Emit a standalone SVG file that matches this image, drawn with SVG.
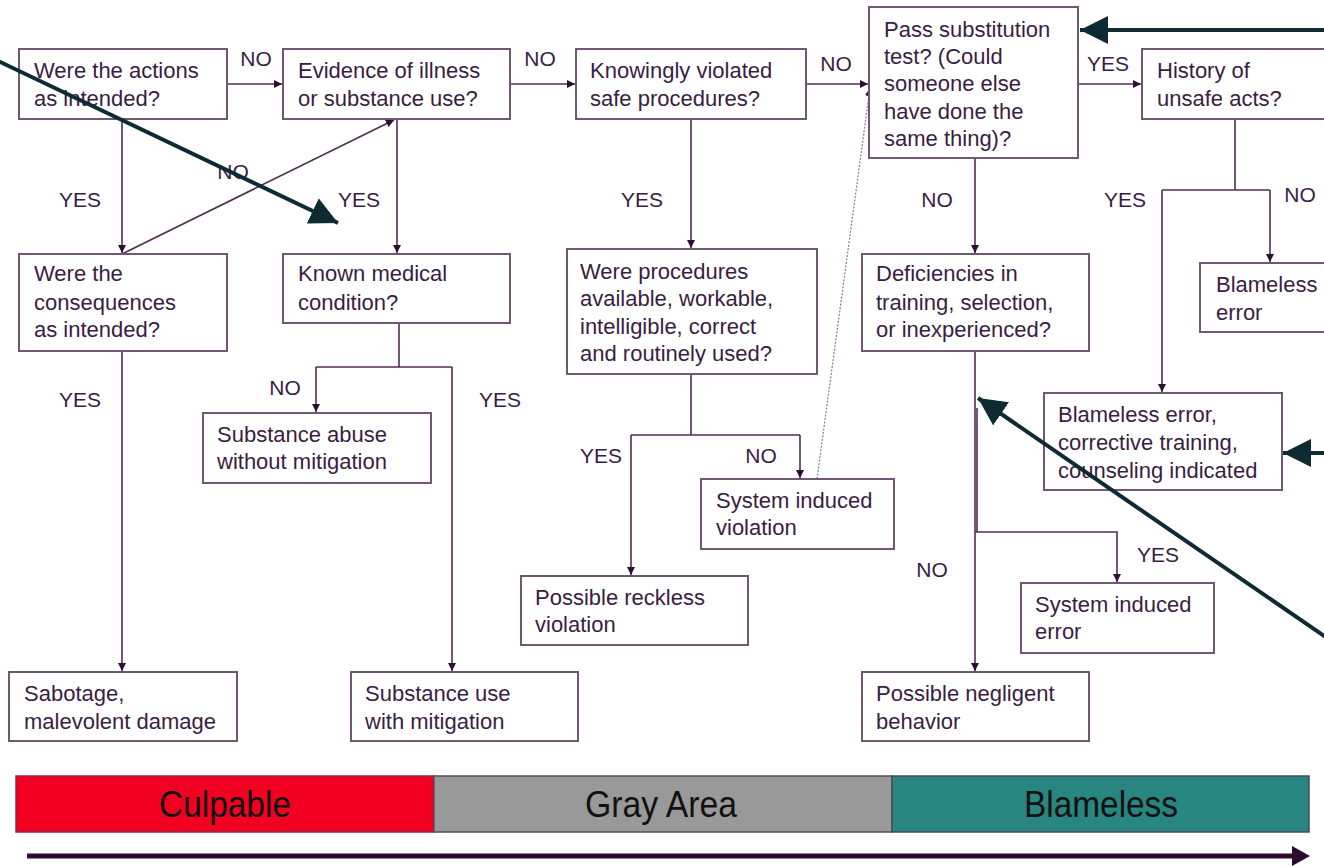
<svg xmlns="http://www.w3.org/2000/svg" width="1324" height="866" viewBox="0 0 1324 866">
<style>
.box{fill:#fff;stroke:#6f5872;stroke-width:2}
.t{font-family:"Liberation Sans",Arial,sans-serif;font-size:22px;fill:#3a1d42}
.lbl{font-family:"Liberation Sans",Arial,sans-serif;font-size:21px;fill:#3a1d42;text-anchor:middle}
.c{fill:none;stroke:#4f2e50;stroke-width:1.6}
.dot{fill:none;stroke:#8a7a8c;stroke-width:1.2;stroke-dasharray:2 1.5}
.ann{fill:none;stroke:#0e2a33;stroke-width:4}
.band{font-family:"Liberation Sans Narrow","Liberation Sans",Arial,sans-serif;font-size:36px;fill:#111;text-anchor:middle}
</style>
<defs>
<marker id="a" viewBox="0 0 10 10" refX="10" refY="5" markerWidth="8" markerHeight="8" markerUnits="userSpaceOnUse" orient="auto"><path d="M0,0 L10,5 L0,10 z" fill="#2e0f33"/></marker>
<marker id="b" viewBox="0 0 10 10" refX="10" refY="5" markerWidth="7" markerHeight="7" orient="auto"><path d="M0,0 L10,5 L0,10 z" fill="#0e2a33"/></marker>
</defs>
<rect width="1324" height="866" fill="#fff"/>

<g id="connectors">
<path class="c" d="M227,84 H282" marker-end="url(#a)"/>
<path class="c" d="M510,84 H575" marker-end="url(#a)"/>
<path class="c" d="M806,84 H868" marker-end="url(#a)"/>
<path class="c" d="M1078,84 H1141" marker-end="url(#a)"/>
<path class="c" d="M122,119 V253" marker-end="url(#a)"/>
<path class="c" d="M122,254 L394,120" marker-end="url(#a)"/>
<path class="c" d="M397,119 V253" marker-end="url(#a)"/>
<path class="c" d="M691,119 V248" marker-end="url(#a)"/>
<path class="c" d="M975,158 V253" marker-end="url(#a)"/>
<path class="c" d="M1235,119 V190"/>
<path class="c" d="M1162,190 H1270"/>
<path class="c" d="M1162,190 V392" marker-end="url(#a)"/>
<path class="c" d="M1270,190 V262" marker-end="url(#a)"/>
<path class="c" d="M122,351 V671" marker-end="url(#a)"/>
<path class="c" d="M399,323 V367"/>
<path class="c" d="M316,367 H452"/>
<path class="c" d="M316,367 V412" marker-end="url(#a)"/>
<path class="c" d="M452,367 V671" marker-end="url(#a)"/>
<path class="c" d="M691,374 V435"/>
<path class="c" d="M631,435 H800"/>
<path class="c" d="M631,435 V575" marker-end="url(#a)"/>
<path class="c" d="M800,435 V478" marker-end="url(#a)"/>
<path class="dot" d="M817,479 L870,88" marker-end="url(#a)"/>
<path class="c" d="M975,351 V671" marker-end="url(#a)"/>
<path class="c" d="M977,408 V532"/>
<path class="c" d="M975,532 H1117 V582" marker-end="url(#a)"/>
<text class="lbl" x="256" y="66">NO</text>
<text class="lbl" x="540" y="66">NO</text>
<text class="lbl" x="836" y="71">NO</text>
<text class="lbl" x="1108" y="71">YES</text>
<text class="lbl" x="80" y="207">YES</text>
<text class="lbl" x="233" y="179">NO</text>
<text class="lbl" x="359" y="207">YES</text>
<text class="lbl" x="642" y="207">YES</text>
<text class="lbl" x="937" y="207">NO</text>
<text class="lbl" x="1125" y="207">YES</text>
<text class="lbl" x="1300" y="202">NO</text>
<text class="lbl" x="80" y="407">YES</text>
<text class="lbl" x="285" y="395">NO</text>
<text class="lbl" x="500" y="407">YES</text>
<text class="lbl" x="601" y="463">YES</text>
<text class="lbl" x="761" y="463">NO</text>
<text class="lbl" x="932" y="577">NO</text>
<text class="lbl" x="1158" y="562">YES</text>
</g>

<g id="n1"><rect class="box" x="19" y="49" width="208" height="70"/><text class="t" x="34" y="78">Were the actions</text><text class="t" x="34" y="106">as intended?</text></g>
<g id="n2"><rect class="box" x="283" y="49" width="227" height="70"/><text class="t" x="298" y="78">Evidence of illness</text><text class="t" x="298" y="106">or substance use?</text></g>
<g id="n3"><rect class="box" x="576" y="49" width="230" height="70"/><text class="t" x="590" y="78">Knowingly violated</text><text class="t" x="590" y="106">safe procedures?</text></g>
<g id="n4"><rect class="box" x="869" y="7" width="209" height="151"/><text class="t" x="884" y="37">Pass substitution</text><text class="t" x="884" y="64">test? (Could</text><text class="t" x="884" y="91">someone else</text><text class="t" x="884" y="119">have done the</text><text class="t" x="884" y="146">same thing)?</text></g>
<g id="n5"><rect class="box" x="1142" y="49" width="190" height="70"/><text class="t" x="1157" y="78">History of</text><text class="t" x="1157" y="106">unsafe acts?</text></g>
<g id="n6"><rect class="box" x="19" y="254" width="208" height="97"/><text class="t" x="34" y="281">Were the</text><text class="t" x="34" y="310">consequences</text><text class="t" x="34" y="337">as intended?</text></g>
<g id="n7"><rect class="box" x="283" y="254" width="227" height="69"/><text class="t" x="298" y="281">Known medical</text><text class="t" x="298" y="310">condition?</text></g>
<g id="n8"><rect class="box" x="567" y="249" width="250" height="125"/><text class="t" x="580" y="279">Were procedures</text><text class="t" x="580" y="306">available, workable,</text><text class="t" x="580" y="334">intelligible, correct</text><text class="t" x="580" y="361">and routinely used?</text></g>
<g id="n9"><rect class="box" x="862" y="254" width="227" height="97"/><text class="t" x="876" y="281">Deficiencies in</text><text class="t" x="876" y="310">training, selection,</text><text class="t" x="876" y="337">or inexperienced?</text></g>
<g id="n10"><rect class="box" x="1200" y="263" width="132" height="69"/><text class="t" x="1216" y="292">Blameless</text><text class="t" x="1216" y="320">error</text></g>
<g id="n11"><rect class="box" x="203" y="413" width="228" height="70"/><text class="t" x="217" y="442">Substance abuse</text><text class="t" x="217" y="469">without mitigation</text></g>
<g id="n12"><rect class="box" x="1044" y="393" width="238" height="97"/><text class="t" x="1058" y="422">Blameless error,</text><text class="t" x="1058" y="450">corrective training,</text><text class="t" x="1058" y="478">counseling indicated</text></g>
<g id="n13"><rect class="box" x="701" y="479" width="193" height="70"/><text class="t" x="716" y="508">System induced</text><text class="t" x="716" y="535">violation</text></g>
<g id="n14"><rect class="box" x="521" y="576" width="227" height="69"/><text class="t" x="535" y="605">Possible reckless</text><text class="t" x="535" y="632">violation</text></g>
<g id="n15"><rect class="box" x="1021" y="583" width="193" height="70"/><text class="t" x="1035" y="612">System induced</text><text class="t" x="1035" y="639">error</text></g>
<g id="n16"><rect class="box" x="9" y="672" width="228" height="69"/><text class="t" x="24" y="701">Sabotage,</text><text class="t" x="24" y="729">malevolent damage</text></g>
<g id="n17"><rect class="box" x="351" y="672" width="227" height="69"/><text class="t" x="365" y="701">Substance use</text><text class="t" x="365" y="729">with mitigation</text></g>
<g id="n18"><rect class="box" x="862" y="672" width="227" height="69"/><text class="t" x="876" y="701">Possible negligent</text><text class="t" x="876" y="729">behavior</text></g>

<g id="scale">
<rect x="16" y="776" width="418" height="56" fill="#f20022" stroke="#8a2a4a" stroke-width="1.5"/>
<rect x="434" y="776" width="458" height="56" fill="#999999" stroke="#5a4a62" stroke-width="1.5"/>
<rect x="892" y="776" width="417" height="56" fill="#288580" stroke="#4a4a62" stroke-width="1.5"/>
<text class="band" x="225" y="817" textLength="132" lengthAdjust="spacingAndGlyphs">Culpable</text>
<text class="band" x="661" y="817" textLength="152" lengthAdjust="spacingAndGlyphs">Gray Area</text>
<text class="band" x="1101" y="817" textLength="154" lengthAdjust="spacingAndGlyphs">Blameless</text>
<path d="M27,856 H1294" stroke="#2e0a30" stroke-width="5" fill="none"/>
<path d="M1292,846 L1310,856 L1292,866 z" fill="#2e0a30"/>
</g>

<g id="annotations">
<path class="ann" d="M-4,60 L338,223" marker-end="url(#b)"/>
<path class="ann" d="M1330,30 H1080" marker-end="url(#b)"/>
<path class="ann" d="M1330,453 H1283" marker-end="url(#b)"/>
<path class="ann" d="M1330,640 L978,398" marker-end="url(#b)"/>
</g>
</svg>
